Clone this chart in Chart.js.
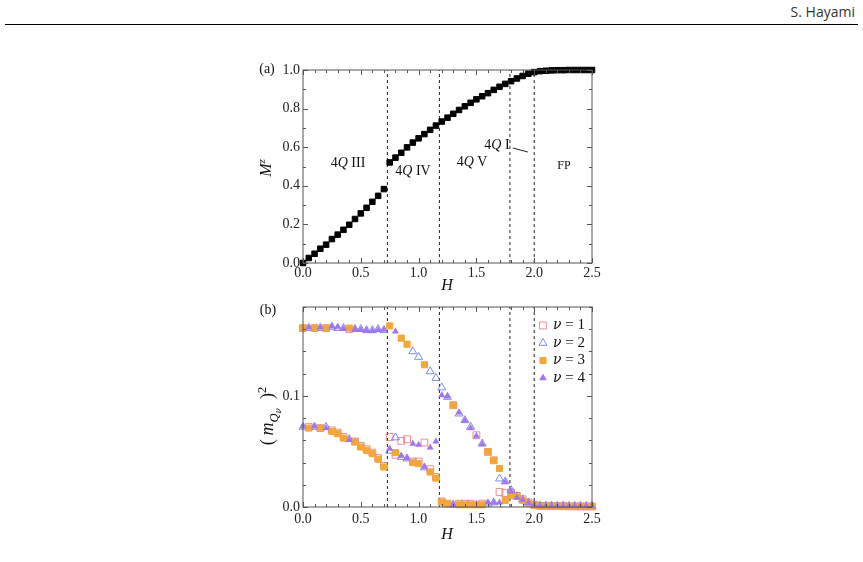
<!DOCTYPE html>
<html lang="en">
<head>
<meta charset="UTF-8">
<title>Magnetization and ordered moments vs H</title>
<script src="https://cdn.jsdelivr.net/npm/chart.js"></script>
<style>
    body {
        margin: 0;
        width: 863px;
        height: 562px;
        position: relative;
        overflow: hidden;
        background: #fff;
        font-family: 'Liberation Serif', serif;
        color: #111;
    }
    .header {
        position: absolute;
        right: 8px;
        top: 2px;
        font-family: 'Open Sans', sans-serif;
        font-size: 14px;
        color: #333;
    }
    .rule {
        position: absolute;
        left: 5px;
        right: 5px;
        top: 24px;
        border-top: 1.5px solid #000;
    }
    canvas { position: absolute; }
    .lbl {
        position: absolute;
        font-size: 14px;
        white-space: nowrap;
        transform: translate(-50%, -50%);
        line-height: 1;
    }
    .ytitle { transform: translate(-50%, -50%) rotate(-90deg); font-size: 16px; }
    .ytitle.big { font-size: 18px; }
    .xtitle { font-size: 16px; font-style: italic; }
    sub, sup { font-size: 70%; line-height: 0; }
</style>
</head>
<body>
    <div class="header">S. Hayami</div>
    <div class="rule"></div>

    <canvas id="magChart" width="360" height="235" style="left:250px; top:55px;"></canvas>
    <canvas id="orderChart" width="360" height="250" style="left:250px; top:295px;"></canvas>

    <!-- panel (a) labels -->
    <div class="lbl" style="left:267px; top:69px;">(a)</div>
    <div class="lbl ytitle" style="left:266px; top:168px;"><i>M</i><sup><i>z</i></sup></div>
    <div class="lbl xtitle" style="left:447px; top:285px;">H</div>
    <div class="lbl" style="left:348px; top:163px;">4<i>Q</i> III</div>
    <div class="lbl" style="left:413px; top:171px;">4<i>Q</i> IV</div>
    <div class="lbl" style="left:472px; top:162px;">4<i>Q</i> V</div>
    <div class="lbl" style="left:497px; top:145px;">4<i>Q</i> I</div>
    <div class="lbl" style="left:564px; top:165px; font-size:12px;">FP</div>

    <!-- panel (b) labels -->
    <div class="lbl" style="left:268px; top:310px;">(b)</div>
    <div class="lbl ytitle big" style="left:268px; top:416px;">(&thinsp;<i>m</i><sub><i>Q</i><sub><i style="font-family:'DejaVu Serif', serif;">ν</i></sub></sub>&ensp;)<sup>2</sup></div>
    <div class="lbl xtitle" style="left:447px; top:534px;">H</div>

<script>
// magnetic field values shared by both panels
const fields = [0.00, 0.05, 0.10, 0.15, 0.20, 0.25, 0.30, 0.35, 0.40, 0.45,
    0.50, 0.55, 0.60, 0.65, 0.70, 0.75, 0.80, 0.85, 0.90, 0.95,
    1.00, 1.05, 1.10, 1.15, 1.20, 1.25, 1.30, 1.35, 1.40, 1.45,
    1.50, 1.55, 1.60, 1.65, 1.70, 1.75, 1.80, 1.85, 1.90, 1.95,
    2.00, 2.05, 2.10, 2.15, 2.20, 2.25, 2.30, 2.35, 2.40, 2.45, 2.50];

// (a) magnetization M^z
const magZ = [0.000, 0.026, 0.048, 0.074, 0.095, 0.124, 0.147, 0.172, 0.198, 0.228,
    0.257, 0.286, 0.317, 0.348, 0.383, 0.521, 0.546, 0.571, 0.599, 0.624,
    0.646, 0.668, 0.690, 0.712, 0.733, 0.753, 0.773, 0.793, 0.812, 0.830,
    0.848, 0.864, 0.880, 0.897, 0.913, 0.928, 0.942, 0.956, 0.969, 0.981,
    0.989, 0.994, 0.996, 0.998, 0.999, 0.999, 1.000, 1.000, 1.000, 1.000, 1.000];

// (b) (m_Qnu)^2 for nu = 1..4
const mq1 = [0.161, 0.072, 0.161, 0.071, 0.161, 0.069, 0.067, 0.063, 0.160, 0.059,
    0.055, 0.052, 0.049, 0.044, 0.037, 0.063, 0.047, 0.0595, 0.061, 0.041,
    0.041, 0.058, 0.034, 0.027, 0.005, 0.003, 0.0916, 0.003, 0.003, 0.003,
    0.0646, 0.003, 0.0496, 0.042, 0.0135, 0.0125, 0.013, 0.010, 0.007, 0.004,
    0.002, 0.001, 0.001, 0.0008, 0.0008, 0.0007, 0.0006, 0.0006, 0.0005, 0.0005, 0.0005];
const mq2 = [0.072, 0.161, 0.072, 0.161, 0.072, 0.162, 0.161, 0.161, 0.061, 0.160,
    0.160, 0.159, 0.159, 0.160, 0.159, 0.0505, 0.0625, 0.045, 0.0435, 0.140,
    0.135, 0.0355, 0.122, 0.116, 0.1075, 0.099, 0.002, 0.084, 0.078, 0.072,
    0.002, 0.057, 0.003, 0.004, 0.0255, 0.023, 0.015, 0.0095, 0.0065, 0.004,
    0.002, 0.0012, 0.0011, 0.001, 0.001, 0.001, 0.0009, 0.0009, 0.0009, 0.0008, 0.0008];
const mq3 = [0.161, 0.071, 0.161, 0.071, 0.161, 0.068, 0.066, 0.062, 0.161, 0.0586,
    0.054, 0.051, 0.048, 0.043, 0.036, 0.163, 0.049, 0.152, 0.1465, 0.040,
    0.039, 0.128, 0.0315, 0.026, 0.0045, 0.003, 0.0916, 0.002, 0.002, 0.002,
    0.002, 0.002, 0.0496, 0.042, 0.0346, 0.006, 0.0105, 0.0095, 0.006, 0.0035,
    0.0015, 0.0008, 0.0007, 0.0006, 0.0005, 0.0005, 0.0004, 0.0004, 0.0004, 0.0003, 0.0003];
const mq4 = [0.0725, 0.1615, 0.0725, 0.1615, 0.071, 0.1625, 0.162, 0.1605, 0.0605, 0.160,
    0.1595, 0.159, 0.1585, 0.1595, 0.1595, 0.0525, 0.158, 0.046, 0.044, 0.057,
    0.056, 0.036, 0.0535, 0.059, 0.1006, 0.0995, 0.002, 0.085, 0.078, 0.071,
    0.064, 0.0565, 0.004, 0.004, 0.004, 0.0225, 0.014, 0.0085, 0.0065, 0.0035,
    0.002, 0.0012, 0.0011, 0.001, 0.001, 0.001, 0.0009, 0.0009, 0.0009, 0.0008, 0.0008];

// phase boundaries (dashed lines)
const phaseBounds = [0.73, 1.18, 1.79, 2.0];
// little pointer next to the "4Q I" label
const pointerLine = [[1.815, 0.596], [1.945, 0.575]];

// tick labels
const hTicks = [0, 0.5, 1.0, 1.5, 2.0, 2.5];
const magTicks = [0, 0.2, 0.4, 0.6, 0.8, 1.0];
const mqTicks = [0, 0.1];
const legendLabels = ['1', '2', '3', '4'];

const tickFont = { family: "'Liberation Serif', serif", size: 14 };

function points(ys) {
    return fields.map((h, i) => ({ x: h, y: ys[i] }));
}

function boundaryLines(top) {
    return phaseBounds.map(b => ({
        type: 'scatter',
        data: [{ x: b, y: 0 }, { x: b, y: top }],
        showLine: true,
        borderColor: '#222',
        borderWidth: 1,
        borderDash: [3, 3],
        pointRadius: 0,
        order: 100
    }));
}

// frame with inward major / minor ticks on all four sides
const framePlugin = {
    id: 'frame',
    afterDatasetsDraw(chart, args, opts) {
        const { ctx, chartArea: a } = chart;
        const xs = chart.scales.x, ys = chart.scales.y;
        ctx.save();
        ctx.strokeStyle = '#555';
        ctx.lineWidth = 1;
        ctx.beginPath();
        const mark = (isX, v, len) => {
            if (isX) {
                const px = Math.round(xs.getPixelForValue(v)) + 0.5;
                ctx.moveTo(px, a.bottom); ctx.lineTo(px, a.bottom - len);
                ctx.moveTo(px, a.top); ctx.lineTo(px, a.top + len);
            } else {
                const py = Math.round(ys.getPixelForValue(v)) + 0.5;
                ctx.moveTo(a.left, py); ctx.lineTo(a.left + len, py);
                ctx.moveTo(a.right, py); ctx.lineTo(a.right - len, py);
            }
        };
        for (let v = xs.min; v <= xs.max + 1e-9; v += opts.xMinor) mark(true, v, 3);
        for (let v = ys.min; v <= ys.max + 1e-9; v += opts.yMinor) mark(false, v, 3);
        xs.ticks.forEach(t => mark(true, t.value, 5));
        ys.ticks.forEach(t => mark(false, t.value, 5));
        ctx.stroke();
        ctx.strokeRect(a.left, a.top, a.width, a.height);
        ctx.restore();
    }
};

function drawMarker(ctx, style, x, y, r, fill, stroke) {
    ctx.beginPath();
    if (style === 'rect') {
        const s = r * Math.SQRT1_2;
        ctx.rect(x - s, y - s, 2 * s, 2 * s);
    } else {
        ctx.moveTo(x, y - r);
        ctx.lineTo(x + r * 0.866, y + r * 0.5);
        ctx.lineTo(x - r * 0.866, y + r * 0.5);
        ctx.closePath();
    }
    if (fill) { ctx.fillStyle = fill; ctx.fill(); }
    if (stroke) { ctx.strokeStyle = stroke; ctx.lineWidth = 1; ctx.stroke(); }
}

// legend inside the upper right corner of panel (b)
const legendPlugin = {
    id: 'innerLegend',
    afterDraw(chart) {
        const { ctx, chartArea: a } = chart;
        const sets = chart.data.datasets.filter(d => d.legendIndex !== undefined);
        ctx.save();
        sets.forEach(d => {
            const i = d.legendIndex;
            const y = a.top + 18.5 + i * 17.5;
            const x = a.right - 49;
            drawMarker(ctx, d.pointStyle, x, y, d.legendRadius,
                d.pointBackgroundColor === 'transparent' ? null : d.pointBackgroundColor,
                d.pointBorderColor);
            ctx.fillStyle = '#111';
            ctx.textBaseline = 'middle';
            ctx.font = "italic 14px 'DejaVu Serif', serif";
            ctx.fillText('ν', a.right - 39, y);
            const w = ctx.measureText('ν').width;
            ctx.font = "15px 'Liberation Serif', serif";
            ctx.fillText(' = ' + legendLabels[i], a.right - 39 + w, y);
        });
        ctx.restore();
    }
};

function axes(yMax, yTicks, yWidth, xHeight, xPad) {
    return {
        x: {
            type: 'linear', min: 0, max: 2.5,
            afterBuildTicks: s => { s.ticks = hTicks.map(v => ({ value: v })); },
            afterFit: s => { s.height = xHeight; },
            grid: { display: false, drawTicks: false },
            border: { display: false },
            ticks: { padding: xPad, color: '#222', font: tickFont, callback: v => v.toFixed(1) }
        },
        y: {
            type: 'linear', min: 0, max: yMax,
            afterBuildTicks: s => { s.ticks = yTicks.map(v => ({ value: v })); },
            afterFit: s => { s.width = yWidth; },
            grid: { display: false, drawTicks: false },
            border: { display: false },
            ticks: { padding: 3, color: '#222', font: tickFont, callback: v => v.toFixed(1) }
        }
    };
}

// Panel (a)
new Chart(document.getElementById('magChart'), {
    type: 'scatter',
    data: {
        datasets: [
            {
                data: points(magZ),
                pointStyle: 'rect',
                pointRadius: 3.9,
                pointBackgroundColor: '#000',
                pointBorderColor: '#000',
                pointBorderWidth: 1,
                clip: false,
                order: 1
            },
            {
                data: pointerLine.map(p => ({ x: p[0], y: p[1] })),
                showLine: true,
                borderColor: '#222',
                borderWidth: 1,
                pointRadius: 0,
                order: 2
            },
            ...boundaryLines(1)
        ]
    },
    options: {
        responsive: false,
        animation: false,
        layout: { padding: { top: 15, right: 18, left: 0, bottom: 0 } },
        plugins: {
            legend: { display: false },
            tooltip: { enabled: false },
            frame: { xMinor: 0.1, yMinor: 0.1 }
        },
        scales: axes(1, magTicks, 53, 27, 2)
    },
    plugins: [framePlugin]
});

// Panel (b)
new Chart(document.getElementById('orderChart'), {
    type: 'scatter',
    data: {
        datasets: [
            {
                data: points(mq1), legendIndex: 0, legendRadius: 4.8,
                pointStyle: 'rect', pointRadius: 4.8,
                pointBackgroundColor: 'transparent',
                pointBorderColor: 'rgba(232,108,108,0.75)', pointBorderWidth: 1,
                clip: false, order: 4
            },
            {
                data: points(mq2), legendIndex: 1, legendRadius: 4.6,
                pointStyle: 'triangle', pointRadius: 4.6,
                pointBackgroundColor: 'transparent',
                pointBorderColor: 'rgba(98,110,235,0.8)', pointBorderWidth: 1,
                clip: false, order: 3
            },
            {
                data: points(mq3), legendIndex: 2, legendRadius: 4.3,
                pointStyle: 'rect', pointRadius: 4.3,
                pointBackgroundColor: 'rgb(242,167,56)',
                pointBorderColor: 'rgb(242,167,56)', pointBorderWidth: 1,
                clip: false, order: 2
            },
            {
                data: points(mq4), legendIndex: 3, legendRadius: 3.6,
                pointStyle: 'triangle', pointRadius: 3.6,
                pointBackgroundColor: 'rgb(165,115,235)',
                pointBorderColor: 'rgb(165,115,235)', pointBorderWidth: 0.5,
                clip: false, order: 1
            },
            ...boundaryLines(0.18)
        ]
    },
    options: {
        responsive: false,
        animation: false,
        layout: { padding: { top: 12, right: 18, left: 0, bottom: 0 } },
        plugins: {
            legend: { display: false },
            tooltip: { enabled: false },
            frame: { xMinor: 0.1, yMinor: 0.02 }
        },
        scales: axes(0.18, mqTicks, 53, 38, 4)
    },
    plugins: [framePlugin, legendPlugin]
});
</script>
</body>
</html>
